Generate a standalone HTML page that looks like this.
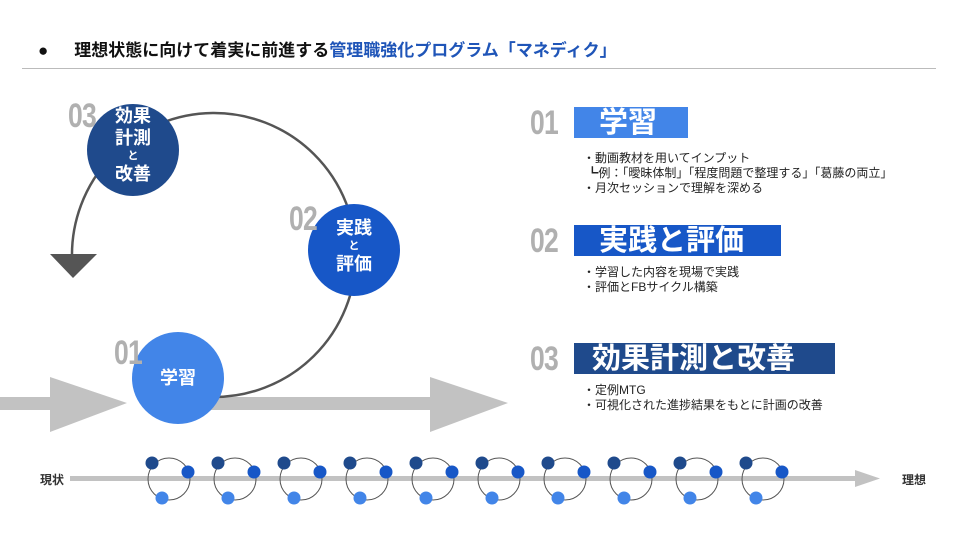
<!DOCTYPE html>
<html><head><meta charset="utf-8"><style>
body{margin:0;width:960px;height:540px;background:#fff;position:relative;overflow:hidden;font-family:"Liberation Sans","Noto Sans CJK JP",sans-serif;}
.a{position:absolute;white-space:nowrap;}
.num{position:absolute;font-family:"Liberation Sans",sans-serif;font-weight:bold;color:#b0b0b0;font-size:34px;transform:scale(0.78,1);transform-origin:left top;letter-spacing:-1px;line-height:1;}
.box{position:absolute;height:31px;color:#fff;font-weight:bold;font-size:29px;overflow:visible;}
.box span{position:absolute;top:-2px;line-height:36px;}
.bl{position:absolute;font-size:12px;color:#222;line-height:15px;white-space:nowrap;}
.ct{position:absolute;color:#fff;font-weight:bold;text-align:center;font-size:18px;line-height:22px;}
</style></head><body>
<div class="a" style="left:38px;top:36px;font-size:17px;font-weight:bold;color:#111;">●<span style="display:inline-block;width:26px"></span>理想状態に向けて着実に前進する<span style="color:#1f55b8">管理職強化プログラム「マネディク」</span></div>
<div class="a" style="left:22px;top:68px;width:914px;height:1px;background:#bbb"></div>
<svg width="960" height="540" style="position:absolute;left:0;top:0">
<g fill="#c2c2c2">
<rect x="0" y="397" width="52" height="13"/><polygon points="50,377 127,403 50,432"/>
<rect x="200" y="397" width="232" height="13"/><polygon points="430,377 508,403 430,432"/>
</g>
<path d="M72,258 A142,142 0 1 1 212,397" fill="none" stroke="#555" stroke-width="2.5"/>
<polygon points="50,254 97,254 73,278" fill="#555"/>
<circle cx="133" cy="150" r="46" fill="#1f4a8c"/>
<circle cx="354" cy="250" r="46" fill="#1757c7"/>
<circle cx="178" cy="378" r="46" fill="#4285e8"/>
<rect x="70" y="476" width="790" height="5" fill="#c2c2c2"/>
<polygon points="855,470 880,478.5 855,487" fill="#c2c2c2"/>
<g id="cy">
<circle cx="169" cy="479" r="21" fill="none" stroke="#555" stroke-width="1"/>
<circle cx="152" cy="463" r="6.5" fill="#1f4a8c"/>
<circle cx="188" cy="472" r="6.5" fill="#1757c7"/>
<circle cx="162" cy="498" r="6.5" fill="#4285e8"/>
</g>
<use href="#cy" x="66"/><use href="#cy" x="132"/><use href="#cy" x="198"/><use href="#cy" x="264"/><use href="#cy" x="330"/><use href="#cy" x="396"/><use href="#cy" x="462"/><use href="#cy" x="528"/><use href="#cy" x="594"/>
</svg>
<div class="num" style="left:68px;top:99px">03</div>
<div class="num" style="left:289px;top:202px">02</div>
<div class="num" style="left:114px;top:336px">01</div>
<div class="ct" style="left:97px;top:105px;width:72px;">効果<br>計測<br><span style="font-size:11px;line-height:14px;display:block">と</span>改善</div>
<div class="ct" style="left:318px;top:217px;width:72px;">実践<br><span style="font-size:11px;line-height:14px;display:block">と</span>評価</div>
<div class="ct" style="left:142px;top:367px;width:72px;">学習</div>
<div class="a" style="left:40px;top:471px;font-size:12px;font-weight:bold;color:#333">現状</div>
<div class="a" style="left:902px;top:471px;font-size:12px;font-weight:bold;color:#333">理想</div>
<div class="num" style="left:530px;top:106px">01</div>
<div class="box" style="left:574px;top:107px;width:114px;background:#4285e8;"><span style="left:25px">学習</span></div>
<div class="bl" style="left:583px;top:151px">・動画教材を用いてインプット<br>&nbsp;┗例：「曖昧体制」「程度問題で整理する」「葛藤の両立」<br>・月次セッションで理解を深める</div>
<div class="num" style="left:530px;top:224px">02</div>
<div class="box" style="left:574px;top:225px;width:207px;background:#1757c7;"><span style="left:25px">実践と評価</span></div>
<div class="bl" style="left:583px;top:265px">・学習した内容を現場で実践<br>・評価とFBサイクル構築</div>
<div class="num" style="left:530px;top:342px">03</div>
<div class="box" style="left:574px;top:343px;width:261px;background:#1f4a8c;"><span style="left:18px">効果計測と改善</span></div>
<div class="bl" style="left:583px;top:383px">・定例MTG<br>・可視化された進捗結果をもとに計画の改善</div>
</body></html>
